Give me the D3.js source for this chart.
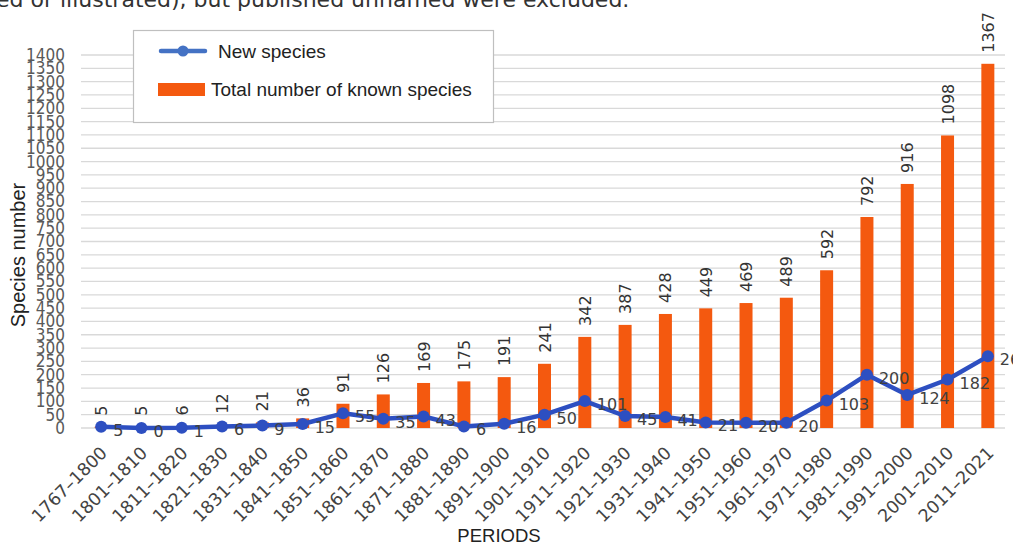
<!DOCTYPE html>
<html>
<head>
<meta charset="utf-8">
<script src="https://cdn.jsdelivr.net/npm/d3@7"></script>
<style>
  html, body { margin: 0; padding: 0; background: #fff; }
  svg { display: block; }
</style>
</head>
<body>
<svg id="chart" width="1013" height="544"></svg>
<script>
// Periods of species description
const periods = ["1767–1800","1801–1810","1811–1820","1821–1830","1831–1840","1841–1850",
  "1851–1860","1861–1870","1871–1880","1881–1890","1891–1900","1901–1910","1911–1920",
  "1921–1930","1931–1940","1941–1950","1951–1960","1961–1970","1971–1980","1981–1990",
  "1991–2000","2001–2010","2011–2021"];
// Species newly described in each period
const newSpecies = [5,0,1,6,9,15,55,35,43,6,16,50,101,45,41,21,20,20,103,200,124,182,269];
// Cumulative number of known species at the end of each period
const totalSpecies = [5,5,6,12,21,36,91,126,169,175,191,241,342,387,428,449,469,489,592,792,916,1098,1367];
// Y axis tick values
const yTicks = d3.range(0, 1401, 50);

const svg = d3.select("#chart");
const plotLeft = 81, plotRight = 1008, plotTop = 55, plotBottom = 428;

const x = d3.scaleBand().domain(periods).range([plotLeft, plotRight]).paddingInner(0).paddingOuter(0);
const y = d3.scaleLinear().domain([0, 1400]).range([plotBottom, plotTop]);
const cx = d => x(d) + x.bandwidth() / 2;

const ORANGE = "#f4590f";
const BLUE = "#2d4fc1";
const LABEL_FONT = "'DejaVu Sans', sans-serif";
const TITLE_FONT = "'Liberation Sans', Arial, sans-serif";

// Caption fragment at the top edge
svg.append("text")
  .attr("x", -4).attr("y", 7)
  .attr("font-family", LABEL_FONT)
  .attr("font-size", 22)
  .attr("fill", "#333")
  .text("ed or illustrated), but published unnamed were excluded.");

// Horizontal gridlines
svg.append("g")
  .selectAll("line")
  .data(yTicks)
  .join("line")
  .attr("x1", plotLeft).attr("x2", plotRight - 3)
  .attr("y1", d => y(d)).attr("y2", d => y(d))
  .attr("stroke", "#d9d9d9").attr("stroke-width", 1.3);

// Y axis labels
const yAxis = d3.axisLeft(y).tickValues(yTicks).tickFormat(d3.format("d")).tickSize(0).tickPadding(0);
const gy = svg.append("g").attr("transform", `translate(${plotLeft - 16},0)`).call(yAxis);
gy.select(".domain").remove();
gy.selectAll("text")
  .attr("font-family", "'DejaVu Sans Condensed', 'DejaVu Sans', sans-serif")
  .attr("font-size", 17)
  .attr("fill", "#595959");

// X axis labels
const xAxis = d3.axisBottom(x).tickSize(0).tickPadding(0);
const gx = svg.append("g").attr("transform", `translate(0,${plotBottom})`).call(xAxis);
gx.select(".domain").remove();
gx.selectAll("text")
  .attr("font-family", LABEL_FONT)
  .attr("font-size", 17.5)
  .attr("fill", "#444")
  .attr("text-anchor", "end")
  .attr("dy", 0)
  .attr("transform", "translate(7,26) rotate(-45)");

// Axis titles
svg.append("text")
  .attr("transform", "translate(25,255) rotate(-90)")
  .attr("text-anchor", "middle")
  .attr("font-family", TITLE_FONT)
  .attr("font-size", 20)
  .attr("fill", "#222")
  .text("Species number");
svg.append("text")
  .attr("x", 499).attr("y", 542)
  .attr("text-anchor", "middle")
  .attr("font-family", TITLE_FONT)
  .attr("font-size", 18.5)
  .attr("fill", "#222")
  .text("PERIODS");

// Bars: total number of known species
const barW = 13;
svg.append("g")
  .selectAll("rect")
  .data(periods)
  .join("rect")
  .attr("x", d => cx(d) - barW / 2)
  .attr("y", (d, i) => y(totalSpecies[i]))
  .attr("width", barW)
  .attr("height", (d, i) => plotBottom - y(totalSpecies[i]))
  .attr("fill", ORANGE);

// Bar value labels (rotated)
svg.append("g")
  .selectAll("text")
  .data(periods)
  .join("text")
  .attr("transform", (d, i) => `translate(${cx(d) + 6},${y(totalSpecies[i]) - 11}) rotate(-90)`)
  .attr("text-anchor", "start")
  .attr("font-family", LABEL_FONT)
  .attr("font-size", 16)
  .attr("fill", "#333")
  .text((d, i) => totalSpecies[i]);

// Line: new species
const line = d3.line()
  .x((d, i) => cx(periods[i]))
  .y(d => y(d));
svg.append("path")
  .datum(newSpecies)
  .attr("d", line)
  .attr("fill", "none")
  .attr("stroke", BLUE)
  .attr("stroke-width", 4.5)
  .attr("stroke-linejoin", "round");
svg.append("g")
  .selectAll("circle")
  .data(newSpecies)
  .join("circle")
  .attr("cx", (d, i) => cx(periods[i]))
  .attr("cy", d => y(d))
  .attr("r", 6)
  .attr("fill", BLUE);

// Line value labels
svg.append("g")
  .selectAll("text")
  .data(newSpecies)
  .join("text")
  .attr("x", (d, i) => cx(periods[i]) + 12)
  .attr("y", d => y(d) + 9)
  .attr("font-family", LABEL_FONT)
  .attr("font-size", 16)
  .attr("fill", "#404040")
  .text(d => d);

// Legend
const lg = svg.append("g");
lg.append("rect")
  .attr("x", 133.5).attr("y", 30.5).attr("width", 360).attr("height", 92)
  .attr("fill", "#fff").attr("stroke", "#bfbfbf").attr("stroke-width", 1.2);
lg.append("line")
  .attr("x1", 161).attr("x2", 205).attr("y1", 51).attr("y2", 51)
  .attr("stroke", "#4472c4").attr("stroke-width", 4.5).attr("stroke-linecap", "round");
lg.append("circle").attr("cx", 183).attr("cy", 51).attr("r", 5.5).attr("fill", "#4472c4");
lg.append("text")
  .attr("x", 218).attr("y", 58)
  .attr("font-family", TITLE_FONT)
  .attr("font-size", 19).attr("fill", "#222")
  .text("New species");
lg.append("rect")
  .attr("x", 158).attr("y", 83).attr("width", 47).attr("height", 13)
  .attr("fill", ORANGE);
lg.append("text")
  .attr("x", 211).attr("y", 96)
  .attr("font-family", TITLE_FONT)
  .attr("font-size", 19).attr("fill", "#222")
  .text("Total number of known species");
</script>
</body>
</html>
